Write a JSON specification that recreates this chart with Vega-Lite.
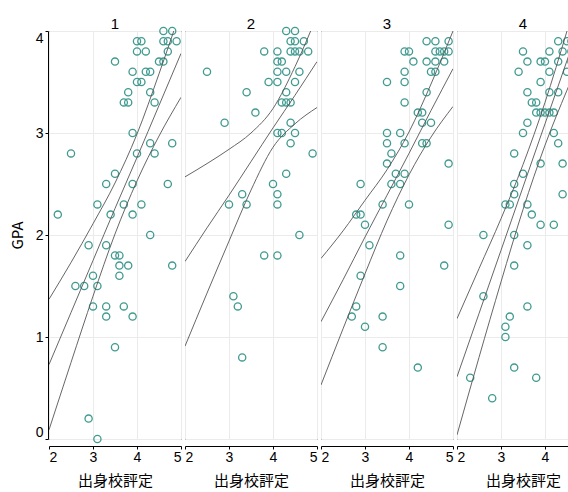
{
  "$schema": "https://vega.github.io/schema/vega-lite/v6.json",
  "padding": {"left": 10, "top": 17, "right": 0, "bottom": 0},
  "data": {"values": [
    {"p":1,"x":4.6,"y":4.0,"s":"pt"},{"p":1,"x":4.8,"y":4.0,"s":"pt"},{"p":1,"x":4.0,"y":3.9,"s":"pt"},{"p":1,"x":4.1,"y":3.9,"s":"pt"},{"p":1,"x":4.6,"y":3.9,"s":"pt"},{"p":1,"x":4.7,"y":3.9,"s":"pt"},{"p":1,"x":4.9,"y":3.9,"s":"pt"},{"p":1,"x":4.0,"y":3.8,"s":"pt"},{"p":1,"x":4.2,"y":3.8,"s":"pt"},{"p":1,"x":4.7,"y":3.8,"s":"pt"},
    {"p":1,"x":3.5,"y":3.7,"s":"pt"},{"p":1,"x":4.5,"y":3.7,"s":"pt"},{"p":1,"x":4.6,"y":3.7,"s":"pt"},{"p":1,"x":3.9,"y":3.6,"s":"pt"},{"p":1,"x":4.2,"y":3.6,"s":"pt"},{"p":1,"x":4.3,"y":3.6,"s":"pt"},{"p":1,"x":4.0,"y":3.5,"s":"pt"},{"p":1,"x":4.1,"y":3.5,"s":"pt"},{"p":1,"x":3.8,"y":3.4,"s":"pt"},{"p":1,"x":4.3,"y":3.4,"s":"pt"},
    {"p":1,"x":3.7,"y":3.3,"s":"pt"},{"p":1,"x":3.8,"y":3.3,"s":"pt"},{"p":1,"x":4.4,"y":3.3,"s":"pt"},{"p":1,"x":3.9,"y":3.0,"s":"pt"},{"p":1,"x":4.3,"y":2.9,"s":"pt"},{"p":1,"x":4.8,"y":2.9,"s":"pt"},{"p":1,"x":2.5,"y":2.8,"s":"pt"},{"p":1,"x":4.0,"y":2.8,"s":"pt"},{"p":1,"x":4.4,"y":2.8,"s":"pt"},{"p":1,"x":3.5,"y":2.6,"s":"pt"},
    {"p":1,"x":3.3,"y":2.5,"s":"pt"},{"p":1,"x":3.9,"y":2.5,"s":"pt"},{"p":1,"x":4.7,"y":2.5,"s":"pt"},{"p":1,"x":3.1,"y":2.3,"s":"pt"},{"p":1,"x":3.7,"y":2.3,"s":"pt"},{"p":1,"x":4.1,"y":2.3,"s":"pt"},{"p":1,"x":2.2,"y":2.2,"s":"pt"},{"p":1,"x":3.4,"y":2.2,"s":"pt"},{"p":1,"x":3.9,"y":2.2,"s":"pt"},{"p":1,"x":4.3,"y":2.0,"s":"pt"},
    {"p":1,"x":2.9,"y":1.9,"s":"pt"},{"p":1,"x":3.3,"y":1.9,"s":"pt"},{"p":1,"x":3.5,"y":1.8,"s":"pt"},{"p":1,"x":3.6,"y":1.8,"s":"pt"},{"p":1,"x":3.6,"y":1.7,"s":"pt"},{"p":1,"x":3.8,"y":1.7,"s":"pt"},{"p":1,"x":4.8,"y":1.7,"s":"pt"},{"p":1,"x":3.0,"y":1.6,"s":"pt"},{"p":1,"x":3.6,"y":1.6,"s":"pt"},{"p":1,"x":2.6,"y":1.5,"s":"pt"},
    {"p":1,"x":2.8,"y":1.5,"s":"pt"},{"p":1,"x":3.1,"y":1.5,"s":"pt"},{"p":1,"x":3.0,"y":1.3,"s":"pt"},{"p":1,"x":3.3,"y":1.3,"s":"pt"},{"p":1,"x":3.7,"y":1.3,"s":"pt"},{"p":1,"x":3.3,"y":1.2,"s":"pt"},{"p":1,"x":3.9,"y":1.2,"s":"pt"},{"p":1,"x":3.5,"y":0.9,"s":"pt"},{"p":1,"x":2.9,"y":0.2,"s":"pt"},{"p":1,"x":3.1,"y":0.0,"s":"pt"},

    {"p":2,"x":4.3,"y":4.0,"s":"pt"},{"p":2,"x":4.5,"y":4.0,"s":"pt"},{"p":2,"x":4.4,"y":3.9,"s":"pt"},{"p":2,"x":4.5,"y":3.9,"s":"pt"},{"p":2,"x":4.7,"y":3.9,"s":"pt"},{"p":2,"x":3.8,"y":3.8,"s":"pt"},{"p":2,"x":4.1,"y":3.8,"s":"pt"},{"p":2,"x":4.4,"y":3.8,"s":"pt"},{"p":2,"x":4.5,"y":3.8,"s":"pt"},{"p":2,"x":4.6,"y":3.8,"s":"pt"},
    {"p":2,"x":4.8,"y":3.8,"s":"pt"},{"p":2,"x":4.1,"y":3.7,"s":"pt"},{"p":2,"x":4.2,"y":3.7,"s":"pt"},{"p":2,"x":2.5,"y":3.6,"s":"pt"},{"p":2,"x":4.1,"y":3.6,"s":"pt"},{"p":2,"x":4.3,"y":3.6,"s":"pt"},{"p":2,"x":4.6,"y":3.6,"s":"pt"},{"p":2,"x":3.9,"y":3.5,"s":"pt"},{"p":2,"x":4.1,"y":3.5,"s":"pt"},{"p":2,"x":4.5,"y":3.5,"s":"pt"},
    {"p":2,"x":3.4,"y":3.4,"s":"pt"},{"p":2,"x":4.3,"y":3.4,"s":"pt"},{"p":2,"x":4.2,"y":3.3,"s":"pt"},{"p":2,"x":4.3,"y":3.3,"s":"pt"},{"p":2,"x":4.4,"y":3.3,"s":"pt"},{"p":2,"x":3.6,"y":3.2,"s":"pt"},{"p":2,"x":2.9,"y":3.1,"s":"pt"},{"p":2,"x":4.4,"y":3.1,"s":"pt"},{"p":2,"x":4.1,"y":3.0,"s":"pt"},{"p":2,"x":4.2,"y":3.0,"s":"pt"},
    {"p":2,"x":4.5,"y":3.0,"s":"pt"},{"p":2,"x":4.4,"y":2.9,"s":"pt"},{"p":2,"x":4.9,"y":2.8,"s":"pt"},{"p":2,"x":4.3,"y":2.6,"s":"pt"},{"p":2,"x":4.0,"y":2.5,"s":"pt"},{"p":2,"x":3.3,"y":2.4,"s":"pt"},{"p":2,"x":4.1,"y":2.4,"s":"pt"},{"p":2,"x":3.0,"y":2.3,"s":"pt"},{"p":2,"x":3.4,"y":2.3,"s":"pt"},{"p":2,"x":4.1,"y":2.3,"s":"pt"},
    {"p":2,"x":4.6,"y":2.0,"s":"pt"},{"p":2,"x":3.8,"y":1.8,"s":"pt"},{"p":2,"x":4.1,"y":1.8,"s":"pt"},{"p":2,"x":3.1,"y":1.4,"s":"pt"},{"p":2,"x":3.2,"y":1.3,"s":"pt"},{"p":2,"x":3.3,"y":0.8,"s":"pt"},

    {"p":3,"x":4.4,"y":3.9,"s":"pt"},{"p":3,"x":4.6,"y":3.9,"s":"pt"},{"p":3,"x":4.9,"y":3.9,"s":"pt"},{"p":3,"x":3.9,"y":3.8,"s":"pt"},{"p":3,"x":4.0,"y":3.8,"s":"pt"},{"p":3,"x":4.6,"y":3.8,"s":"pt"},{"p":3,"x":4.7,"y":3.8,"s":"pt"},{"p":3,"x":4.8,"y":3.8,"s":"pt"},{"p":3,"x":4.9,"y":3.8,"s":"pt"},{"p":3,"x":4.1,"y":3.7,"s":"pt"},
    {"p":3,"x":4.4,"y":3.7,"s":"pt"},{"p":3,"x":4.6,"y":3.7,"s":"pt"},{"p":3,"x":4.8,"y":3.7,"s":"pt"},{"p":3,"x":3.9,"y":3.6,"s":"pt"},{"p":3,"x":4.5,"y":3.6,"s":"pt"},{"p":3,"x":4.6,"y":3.6,"s":"pt"},{"p":3,"x":3.5,"y":3.5,"s":"pt"},{"p":3,"x":3.9,"y":3.5,"s":"pt"},{"p":3,"x":4.4,"y":3.4,"s":"pt"},{"p":3,"x":3.9,"y":3.3,"s":"pt"},
    {"p":3,"x":4.2,"y":3.2,"s":"pt"},{"p":3,"x":4.3,"y":3.2,"s":"pt"},{"p":3,"x":4.3,"y":3.1,"s":"pt"},{"p":3,"x":4.5,"y":3.1,"s":"pt"},{"p":3,"x":3.5,"y":3.0,"s":"pt"},{"p":3,"x":3.8,"y":3.0,"s":"pt"},{"p":3,"x":3.5,"y":2.9,"s":"pt"},{"p":3,"x":3.9,"y":2.9,"s":"pt"},{"p":3,"x":4.3,"y":2.9,"s":"pt"},{"p":3,"x":4.4,"y":2.9,"s":"pt"},
    {"p":3,"x":3.6,"y":2.8,"s":"pt"},{"p":3,"x":3.5,"y":2.7,"s":"pt"},{"p":3,"x":4.9,"y":2.7,"s":"pt"},{"p":3,"x":3.7,"y":2.6,"s":"pt"},{"p":3,"x":3.9,"y":2.6,"s":"pt"},{"p":3,"x":2.9,"y":2.5,"s":"pt"},{"p":3,"x":3.6,"y":2.5,"s":"pt"},{"p":3,"x":3.8,"y":2.5,"s":"pt"},{"p":3,"x":3.4,"y":2.3,"s":"pt"},{"p":3,"x":4.0,"y":2.3,"s":"pt"},
    {"p":3,"x":2.8,"y":2.2,"s":"pt"},{"p":3,"x":2.9,"y":2.2,"s":"pt"},{"p":3,"x":3.0,"y":2.1,"s":"pt"},{"p":3,"x":4.9,"y":2.1,"s":"pt"},{"p":3,"x":3.1,"y":1.9,"s":"pt"},{"p":3,"x":3.8,"y":1.8,"s":"pt"},{"p":3,"x":4.8,"y":1.7,"s":"pt"},{"p":3,"x":2.9,"y":1.6,"s":"pt"},{"p":3,"x":3.8,"y":1.5,"s":"pt"},{"p":3,"x":2.8,"y":1.3,"s":"pt"},
    {"p":3,"x":2.7,"y":1.2,"s":"pt"},{"p":3,"x":3.4,"y":1.2,"s":"pt"},{"p":3,"x":3.0,"y":1.1,"s":"pt"},{"p":3,"x":3.4,"y":0.9,"s":"pt"},{"p":3,"x":4.2,"y":0.7,"s":"pt"},

    {"p":4,"x":4.3,"y":3.9,"s":"pt"},{"p":4,"x":4.5,"y":3.9,"s":"pt"},{"p":4,"x":4.6,"y":3.9,"s":"pt"},{"p":4,"x":4.7,"y":3.9,"s":"pt"},{"p":4,"x":4.8,"y":3.9,"s":"pt"},{"p":4,"x":3.5,"y":3.8,"s":"pt"},{"p":4,"x":4.1,"y":3.8,"s":"pt"},{"p":4,"x":4.4,"y":3.8,"s":"pt"},{"p":4,"x":4.6,"y":3.8,"s":"pt"},{"p":4,"x":4.7,"y":3.8,"s":"pt"},
    {"p":4,"x":4.8,"y":3.8,"s":"pt"},{"p":4,"x":3.6,"y":3.7,"s":"pt"},{"p":4,"x":3.9,"y":3.7,"s":"pt"},{"p":4,"x":4.0,"y":3.7,"s":"pt"},{"p":4,"x":4.3,"y":3.7,"s":"pt"},{"p":4,"x":4.6,"y":3.7,"s":"pt"},{"p":4,"x":3.4,"y":3.6,"s":"pt"},{"p":4,"x":4.1,"y":3.6,"s":"pt"},{"p":4,"x":4.5,"y":3.6,"s":"pt"},{"p":4,"x":3.9,"y":3.5,"s":"pt"},
    {"p":4,"x":3.6,"y":3.4,"s":"pt"},{"p":4,"x":4.1,"y":3.4,"s":"pt"},{"p":4,"x":4.3,"y":3.4,"s":"pt"},{"p":4,"x":3.7,"y":3.3,"s":"pt"},{"p":4,"x":3.8,"y":3.3,"s":"pt"},{"p":4,"x":4.8,"y":3.3,"s":"pt"},{"p":4,"x":3.8,"y":3.2,"s":"pt"},{"p":4,"x":3.9,"y":3.2,"s":"pt"},{"p":4,"x":4.0,"y":3.2,"s":"pt"},{"p":4,"x":4.1,"y":3.2,"s":"pt"},
    {"p":4,"x":4.2,"y":3.2,"s":"pt"},{"p":4,"x":3.6,"y":3.1,"s":"pt"},{"p":4,"x":3.5,"y":3.0,"s":"pt"},{"p":4,"x":4.2,"y":3.0,"s":"pt"},{"p":4,"x":4.3,"y":2.9,"s":"pt"},{"p":4,"x":3.3,"y":2.8,"s":"pt"},{"p":4,"x":3.9,"y":2.7,"s":"pt"},{"p":4,"x":4.4,"y":2.7,"s":"pt"},{"p":4,"x":3.5,"y":2.6,"s":"pt"},{"p":4,"x":3.3,"y":2.5,"s":"pt"},
    {"p":4,"x":3.3,"y":2.4,"s":"pt"},{"p":4,"x":4.4,"y":2.4,"s":"pt"},{"p":4,"x":3.1,"y":2.3,"s":"pt"},{"p":4,"x":3.2,"y":2.3,"s":"pt"},{"p":4,"x":3.6,"y":2.3,"s":"pt"},{"p":4,"x":3.7,"y":2.2,"s":"pt"},{"p":4,"x":3.9,"y":2.1,"s":"pt"},{"p":4,"x":4.2,"y":2.1,"s":"pt"},{"p":4,"x":2.6,"y":2.0,"s":"pt"},{"p":4,"x":3.3,"y":2.0,"s":"pt"},
    {"p":4,"x":3.6,"y":1.9,"s":"pt"},{"p":4,"x":3.3,"y":1.7,"s":"pt"},{"p":4,"x":2.6,"y":1.4,"s":"pt"},{"p":4,"x":3.6,"y":1.3,"s":"pt"},{"p":4,"x":3.2,"y":1.2,"s":"pt"},{"p":4,"x":3.1,"y":1.1,"s":"pt"},{"p":4,"x":3.1,"y":1.0,"s":"pt"},{"p":4,"x":3.3,"y":0.7,"s":"pt"},{"p":4,"x":2.3,"y":0.6,"s":"pt"},{"p":4,"x":3.8,"y":0.6,"s":"pt"},
    {"p":4,"x":2.8,"y":0.4,"s":"pt"},

    {"p":1,"x":2,"y":0.73,"s":"fit"},{"p":1,"x":2.5,"y":1.24,"s":"fit"},{"p":1,"x":3,"y":1.75,"s":"fit"},{"p":1,"x":3.5,"y":2.26,"s":"fit"},{"p":1,"x":4,"y":2.76,"s":"fit"},{"p":1,"x":4.5,"y":3.27,"s":"fit"},{"p":1,"x":5,"y":3.78,"s":"fit"},
    {"p":1,"x":2,"y":1.37,"s":"upper"},{"p":1,"x":2.5,"y":1.73,"s":"upper"},{"p":1,"x":3,"y":2.11,"s":"upper"},{"p":1,"x":3.5,"y":2.51,"s":"upper"},{"p":1,"x":4,"y":2.99,"s":"upper"},{"p":1,"x":4.5,"y":3.58,"s":"upper"},{"p":1,"x":5,"y":4.21,"s":"upper"},
    {"p":1,"x":2,"y":0.09,"s":"lower"},{"p":1,"x":2.5,"y":0.75,"s":"lower"},{"p":1,"x":3,"y":1.40,"s":"lower"},{"p":1,"x":3.5,"y":2.01,"s":"lower"},{"p":1,"x":4,"y":2.53,"s":"lower"},{"p":1,"x":4.5,"y":2.97,"s":"lower"},{"p":1,"x":5,"y":3.35,"s":"lower"},

    {"p":2,"x":2,"y":1.74,"s":"fit"},{"p":2,"x":2.5,"y":2.07,"s":"fit"},{"p":2,"x":3,"y":2.39,"s":"fit"},{"p":2,"x":3.5,"y":2.72,"s":"fit"},{"p":2,"x":4,"y":3.05,"s":"fit"},{"p":2,"x":4.5,"y":3.37,"s":"fit"},{"p":2,"x":5,"y":3.70,"s":"fit"},
    {"p":2,"x":2,"y":2.57,"s":"upper"},{"p":2,"x":2.5,"y":2.70,"s":"upper"},{"p":2,"x":3,"y":2.84,"s":"upper"},{"p":2,"x":3.5,"y":3.00,"s":"upper"},{"p":2,"x":4,"y":3.24,"s":"upper"},{"p":2,"x":4.5,"y":3.65,"s":"upper"},{"p":2,"x":5,"y":4.15,"s":"upper"},
    {"p":2,"x":2,"y":0.91,"s":"lower"},{"p":2,"x":2.5,"y":1.43,"s":"lower"},{"p":2,"x":3,"y":1.94,"s":"lower"},{"p":2,"x":3.5,"y":2.44,"s":"lower"},{"p":2,"x":4,"y":2.86,"s":"lower"},{"p":2,"x":4.5,"y":3.09,"s":"lower"},{"p":2,"x":5,"y":3.25,"s":"lower"},

    {"p":3,"x":2,"y":1.15,"s":"fit"},{"p":3,"x":2.5,"y":1.56,"s":"fit"},{"p":3,"x":3,"y":1.98,"s":"fit"},{"p":3,"x":3.5,"y":2.39,"s":"fit"},{"p":3,"x":4,"y":2.80,"s":"fit"},{"p":3,"x":4.5,"y":3.22,"s":"fit"},{"p":3,"x":5,"y":3.63,"s":"fit"},
    {"p":3,"x":2,"y":1.77,"s":"upper"},{"p":3,"x":2.5,"y":2.04,"s":"upper"},{"p":3,"x":3,"y":2.34,"s":"upper"},{"p":3,"x":3.5,"y":2.64,"s":"upper"},{"p":3,"x":4,"y":3.01,"s":"upper"},{"p":3,"x":4.5,"y":3.48,"s":"upper"},{"p":3,"x":5,"y":4.00,"s":"upper"},
    {"p":3,"x":2,"y":0.53,"s":"lower"},{"p":3,"x":2.5,"y":1.08,"s":"lower"},{"p":3,"x":3,"y":1.62,"s":"lower"},{"p":3,"x":3.5,"y":2.14,"s":"lower"},{"p":3,"x":4,"y":2.59,"s":"lower"},{"p":3,"x":4.5,"y":2.96,"s":"lower"},{"p":3,"x":5,"y":3.26,"s":"lower"},

    {"p":4,"x":2,"y":0.61,"s":"fit"},{"p":4,"x":2.5,"y":1.23,"s":"fit"},{"p":4,"x":3,"y":1.85,"s":"fit"},{"p":4,"x":3.5,"y":2.47,"s":"fit"},{"p":4,"x":4,"y":3.09,"s":"fit"},{"p":4,"x":4.5,"y":3.71,"s":"fit"},{"p":4,"x":5,"y":4.33,"s":"fit"},
    {"p":4,"x":2,"y":1.18,"s":"upper"},{"p":4,"x":2.5,"y":1.67,"s":"upper"},{"p":4,"x":3,"y":2.16,"s":"upper"},{"p":4,"x":3.5,"y":2.69,"s":"upper"},{"p":4,"x":4,"y":3.30,"s":"upper"},{"p":4,"x":4.5,"y":4.00,"s":"upper"},{"p":4,"x":5,"y":4.74,"s":"upper"},
    {"p":4,"x":2,"y":0.04,"s":"lower"},{"p":4,"x":2.5,"y":0.80,"s":"lower"},{"p":4,"x":3,"y":1.54,"s":"lower"},{"p":4,"x":3.5,"y":2.25,"s":"lower"},{"p":4,"x":4,"y":2.88,"s":"lower"},{"p":4,"x":4.5,"y":3.42,"s":"lower"},{"p":4,"x":5,"y":3.92,"s":"lower"}
  ]},
  "facet": {"column": {"field": "p", "type": "ordinal", "header": {"title": null, "labelFontSize": 15, "labelColor": "#000", "labelPadding": -8, "labelFont": "Liberation Sans"}}},
  "spacing": 0,
  "spec": {
    "width": 132,
    "height": 408,
    "layer": [
      {
        "transform": [{"filter": "datum.s == 'pt'"}],
        "mark": {"type": "point", "shape": "circle", "filled": false, "color": "#3f9a90", "size": 52, "strokeWidth": 1.3, "opacity": 1},
        "encoding": {
          "x": {"field": "x", "type": "quantitative"},
          "y": {"field": "y", "type": "quantitative"}
        }
      },
      {
        "transform": [{"filter": "datum.s != 'pt'"}],
        "mark": {"type": "line", "clip": true, "color": "#555555", "strokeWidth": 0.9, "interpolate": "monotone"},
        "encoding": {
          "x": {"field": "x", "type": "quantitative"},
          "y": {"field": "y", "type": "quantitative"},
          "detail": {"field": "s"}
        }
      }
    ],
    "encoding": {
      "x": {"field": "x", "type": "quantitative", "scale": {"domain": [2, 5], "nice": false, "zero": false},
        "axis": {"title": "出身校評定", "values": [2, 3, 4, 5], "tickCount": 4}},
      "y": {"field": "y", "type": "quantitative", "scale": {"domain": [0, 4], "nice": false, "zero": false},
        "axis": {"title": "GPA", "values": [0, 1, 2, 3, 4]}}
    }
  },
  "config": {
    "font": "Liberation Sans",
    "view": {"stroke": "#111111", "strokeWidth": 1},
    "axis": {
      "domainColor": "#000000",
      "tickColor": "#000000",
      "tickSize": 3,
      "labelFontSize": 14,
      "labelColor": "#000000",
      "labelFlush": true,
      "labelPadding": 2,
      "labelFont": "Liberation Sans",
      "titleFontSize": 15,
      "titleFontWeight": "normal",
      "titleColor": "#000000",
      "titleFont": "Noto Sans CJK JP",
      "gridColor": "#ebebeb",
      "gridWidth": 1
    },
    "axisX": {"titlePadding": 9, "labelPadding": 1},
    "axisY": {"titlePadding": 10}
  }
}
